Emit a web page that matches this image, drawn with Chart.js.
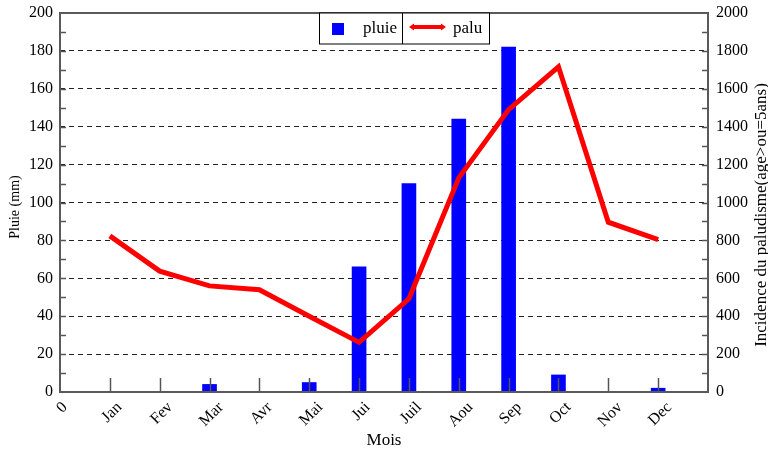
<!DOCTYPE html>
<html>
<head>
<meta charset="utf-8">
<script src="https://cdn.jsdelivr.net/npm/chart.js@4/dist/chart.umd.min.js"></script>
<style>
  html, body { margin: 0; padding: 0; background: #fff; }
  #wrap { width: 768px; height: 457px; }
</style>
</head>
<body>
<div id="wrap"><canvas id="chart"></canvas></div>
<script>
    // Data
    const xTickLabels = ['0', 'Jan', 'Fev', 'Mar', 'Avr', 'Mai', 'Jui', 'Juil', 'Aou', 'Sep', 'Oct', 'Nov', 'Dec'];
    const months = ['Jan', 'Fev', 'Mar', 'Avr', 'Mai', 'Jui', 'Juil', 'Aou', 'Sep', 'Oct', 'Nov', 'Dec'];
    const pluie = [0, 0, 4, 0, 5, 66, 110, 144, 182, 9, 0, 2];
    const palu = [824, 638, 560, 540, 400, 262, 492, 1130, 1490, 1716, 896, 804];

    const serif = '"Liberation Serif", "DejaVu Serif", serif';

    function toPoints(values) {
        return values.map((v, i) => ({ x: i + 1, y: v }));
    }

    // keep the plot area exactly where the reference has it
    function fixWidth(w) {
        return s => {
            s.width = w;
            s.paddingTop = 0;
            s.paddingBottom = 0;
        };
    }

    // Frame, inner ticks, rotated month labels, axis titles, legend
    const decorPlugin = {
        id: 'decor',
        afterDatasetsDraw(chart) {
            const ctx = chart.ctx;
            const area = chart.chartArea;
            const x = chart.scales.x;
            const y = chart.scales.y;
            const y1 = chart.scales.y1;

            ctx.save();
            ctx.strokeStyle = '#555';
            ctx.lineWidth = 1.5;
            // inner ticks on the left axis (every 10)
            for (let v = 10; v < 200; v += 10) {
                const py = Math.round(y.getPixelForValue(v)) + 0.5;
                ctx.beginPath();
                ctx.moveTo(area.left, py);
                ctx.lineTo(area.left + 6, py);
                ctx.stroke();
            }
            // inner ticks on the right axis (every 100)
            for (let v = 100; v < 2000; v += 100) {
                const py = Math.round(y1.getPixelForValue(v)) + 0.5;
                ctx.beginPath();
                ctx.moveTo(area.right, py);
                ctx.lineTo(area.right - 6, py);
                ctx.stroke();
            }
            // inner ticks on the x axis
            for (let i = 1; i < xTickLabels.length; i++) {
                const px = Math.round(x.getPixelForValue(i)) + 0.5;
                ctx.beginPath();
                ctx.moveTo(px, area.bottom);
                ctx.lineTo(px, area.bottom - 14);
                ctx.stroke();
            }
            // frame
            ctx.strokeStyle = '#5a5a5a';
            ctx.lineWidth = 2;
            ctx.strokeRect(area.left, area.top, area.right - area.left, area.bottom - area.top);

            // rotated x tick labels
            ctx.fillStyle = '#000';
            ctx.font = '16px ' + serif;
            ctx.textAlign = 'center';
            ctx.textBaseline = 'middle';
            xTickLabels.forEach((label, i) => {
                const w = ctx.measureText(label).width;
                const half = (w + 11) / (2 * Math.SQRT2);
                const px = x.getPixelForValue(i) + 2;
                ctx.save();
                ctx.translate(px, area.bottom + 9 + half);
                ctx.rotate(-Math.PI / 4);
                ctx.fillText(label, 0, 0);
                ctx.restore();
            });

            // axis titles
            ctx.font = '17px ' + serif;
            ctx.fillText('Mois', (area.left + area.right) / 2, 441);
            ctx.font = '14px ' + serif;
            ctx.save();
            ctx.translate(15, 207);
            ctx.rotate(-Math.PI / 2);
            ctx.fillText('Pluie (mm)', 0, 0);
            ctx.restore();
            ctx.font = '17px ' + serif;
            ctx.save();
            ctx.translate(762, 215);
            ctx.rotate(-Math.PI / 2);
            ctx.fillText('Incidence du paludisme(age>ou=5ans)', 0, 0);
            ctx.restore();

            // legend box
            const bars = chart.data.datasets[0];
            const line = chart.data.datasets[1];
            const lx = 319.5, ly = area.top, lw = 170, lh = 31, split = 402.5;
            ctx.fillStyle = '#fff';
            ctx.fillRect(lx, ly, lw, lh);
            ctx.strokeStyle = '#000';
            ctx.lineWidth = 1;
            ctx.strokeRect(lx, ly, lw, lh);
            ctx.beginPath();
            ctx.moveTo(split, ly);
            ctx.lineTo(split, ly + lh);
            ctx.stroke();
            ctx.fillStyle = bars.backgroundColor;
            ctx.fillRect(332, 23, 12, 12);
            ctx.strokeStyle = line.borderColor;
            ctx.lineWidth = 4;
            ctx.beginPath();
            ctx.moveTo(412, 27);
            ctx.lineTo(443, 27);
            ctx.stroke();
            ctx.fillStyle = line.borderColor;
            ctx.beginPath();
            ctx.moveTo(409, 27); ctx.lineTo(414, 23.5); ctx.lineTo(414, 30.5); ctx.closePath();
            ctx.moveTo(446, 27); ctx.lineTo(441, 23.5); ctx.lineTo(441, 30.5); ctx.closePath();
            ctx.fill();
            ctx.fillStyle = '#000';
            ctx.font = '17px ' + serif;
            ctx.textAlign = 'left';
            ctx.textBaseline = 'alphabetic';
            ctx.fillText(bars.label, 363, 33);
            ctx.fillText(line.label, 453, 33);
            ctx.restore();
        }
    };

    const ctx = document.getElementById('chart').getContext('2d');
    const chart = new Chart(ctx, {
        type: 'bar',
        data: {
            datasets: [
                {
                    type: 'bar',
                    label: 'pluie',
                    data: toPoints(pluie),
                    yAxisID: 'y',
                    backgroundColor: '#0000ff',
                    borderWidth: 0,
                    barThickness: 14,
                    order: 2
                },
                {
                    type: 'line',
                    label: 'palu',
                    data: toPoints(palu),
                    yAxisID: 'y1',
                    borderColor: '#ff0000',
                    backgroundColor: '#ff0000',
                    borderWidth: 5,
                    pointRadius: 0,
                    tension: 0,
                    order: 1
                }
            ]
        },
        options: {
            responsive: true,
            maintainAspectRatio: false,
            animation: false,
            layout: { padding: { top: 13, left: 0, right: 0, bottom: 0 } },
            plugins: {
                legend: { display: false },
                tooltip: { enabled: false }
            },
            scales: {
                x: {
                    type: 'linear',
                    offset: false,
                    min: 0,
                    max: 13,
                    ticks: { display: false, stepSize: 1 },
                    grid: { display: false, offset: false },
                    border: { display: false },
                    afterFit: s => {
                        s.height = 65;
                        s.paddingLeft = 0;
                        s.paddingRight = 0;
                    }
                },
                y: {
                    position: 'left',
                    min: 0,
                    max: 200,
                    ticks: {
                        stepSize: 20,
                        padding: 7,
                        color: '#000',
                        font: { family: serif, size: 16 }
                    },
                    grid: { color: '#222', lineWidth: 1, drawTicks: false },
                    border: { display: false, dash: [5, 4] },
                    afterFit: fixWidth(60)
                },
                y1: {
                    position: 'right',
                    min: 0,
                    max: 2000,
                    ticks: {
                        stepSize: 200,
                        padding: 8,
                        color: '#000',
                        font: { family: serif, size: 16 },
                        callback: v => String(v)
                    },
                    grid: { drawOnChartArea: false, drawTicks: false },
                    border: { display: false },
                    afterFit: fixWidth(60)
                }
            }
        },
        plugins: [decorPlugin]
    });
</script>
</body>
</html>
